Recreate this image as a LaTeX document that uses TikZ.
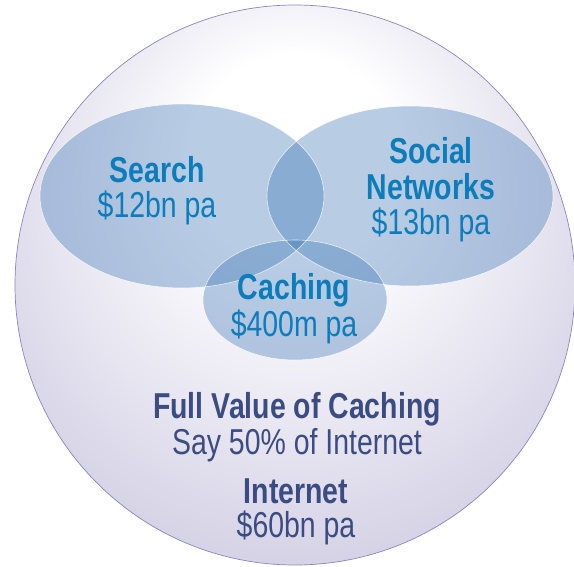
\documentclass[tikz,border=0pt]{standalone}
\usepackage{fontspec}
\setmainfont{Liberation Sans}[FakeStretch=0.79]
\definecolor{lavD}{RGB}{196,192,218}
\definecolor{lavM}{RGB}{228,226,239}
\definecolor{venn}{RGB}{49,110,178}
\definecolor{tblue}{RGB}{12,124,186}
\definecolor{navy}{RGB}{58,76,130}
\definecolor{rim}{RGB}{138,134,190}
\pgfdeclareradialshading{bgball}{\pgfqpoint{0bp}{14bp}}{color(0bp)=(white); color(9bp)=(white); color(23bp)=(lavM); color(39bp)=(lavD); color(50bp)=(lavD)}
\tikzset{
  lbl/.style={anchor=base, inner sep=0pt, font=\fontsize{36}{36}\selectfont},
  hd/.style={anchor=base, inner sep=0pt, font=\fontsize{36}{36}\selectfont\bfseries},
  vennfill/.style={fill=venn, fill opacity=0.34},
  vennline/.style={draw=white, draw opacity=0.75, line width=0.6pt}
}
\begin{document}
\begin{tikzpicture}[x=1pt,y=-1pt]
\useasboundingbox (0,0) rectangle (574,567);
\fill[white] (0,0) rectangle (574,567);
% outer circle
\shade[shading=bgball] (295,285) circle (280);
\draw[rim, line width=0.7pt] (295,285) circle (280);
% venn ellipses
\fill[vennfill] (182,196) ellipse [x radius=142, y radius=92];
\fill[vennfill] (410,196) ellipse [x radius=143, y radius=90];
\fill[vennfill] (295,300) ellipse [x radius=92, y radius=60];
\draw[vennline] (182,196) ellipse [x radius=142, y radius=92];
\draw[vennline] (410,196) ellipse [x radius=143, y radius=90];
\draw[vennline] (295,300) ellipse [x radius=92, y radius=60];
% labels
\node[hd, tblue] (search) at (157,183) {Search};
\node[lbl, tblue] (searchv) at (157,218) {\$12bn pa};
\node[hd, tblue] (social) at (431,164) {Social};
\node[hd, tblue] (networks) at (431,200) {Networks};
\node[lbl, tblue] (socialv) at (431,235) {\$13bn pa};
\node[hd, tblue] (caching) at (294,300) {Caching};
\node[lbl, tblue] (cachingv) at (294,337) {\$400m pa};
\node[hd, navy] (full) at (297,418) {Full Value of Caching};
\node[lbl, navy] (say) at (297,454) {Say 50\% of Internet};
\node[hd, navy] (internet) at (296,503) {Internet};
\node[lbl, navy] (internetv) at (296,537) {\$60bn pa};
\end{tikzpicture}
\end{document}
